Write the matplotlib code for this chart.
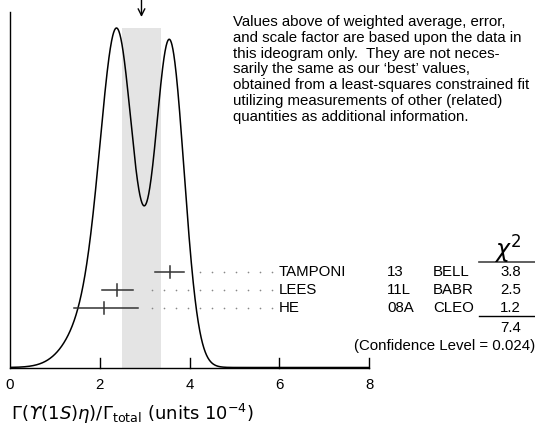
import numpy as np
import matplotlib
matplotlib.use("Agg")
import matplotlib.pyplot as plt

# measurements (units 1e-4)
names = ["TAMPONI", "LEES", "HE"]
years = ["13", "11L", "08A"]
exps = ["BELL", "BABR", "CLEO"]
vals = [3.56, 2.39, 2.10]
err_lo = [0.32, 0.34, 0.68]
err_hi = [0.32, 0.34, 0.76]
# gaussian widths used for the ideogram curve
ideo_lo = [0.32, 0.35, 0.58]
ideo_hi = [0.32, 0.35, 0.70]
chi2 = ["3.8", "2.5", "1.2"]
chi2_total = "7.4"
cl_text = "(Confidence Level = 0.024)"
avg, avg_err = 2.93, 0.43

W, H = 535, 429
plt.rcParams['font.family'] = ['Liberation Sans', 'DejaVu Sans']
plt.rcParams['mathtext.fontset'] = 'dejavusans'

fig = plt.figure(figsize=(W / 100, H / 100), dpi=100)

def fx(p):
    return p / W

def fy(p):
    return 1 - p / H

# axes box in pixels: x 10..369, y 12..367.5
ax = fig.add_axes([fx(10), fy(367.5), fx(359), (367.5 - 12) / H])
ax.set_xlim(0, 8)
ax.set_ylim(0, 1)
ax.axis('off')

# ideogram curve: gaussians with area ~ 1/sigma
x = np.linspace(0, 8, 1601)
curve = np.zeros_like(x)
for v, lo, hi in zip(vals, ideo_lo, ideo_hi):
    s = np.where(x < v, lo, hi)
    sm = 0.5 * (lo + hi)
    curve += np.exp(-0.5 * ((x - v) / s) ** 2) / sm ** 2
peak_level = (367.5 - 28) / (367.5 - 12)
curve = curve / curve.max() * peak_level

ax.axvspan(avg - avg_err, avg + avg_err, ymin=0, ymax=peak_level,
           color='#e4e4e4', lw=0, zorder=0)
ax.plot(x, curve, color='black', lw=1.1, zorder=3)

# axis lines and ticks
ax.plot([0, 0], [0, 1], color='black', lw=1.0, clip_on=False)
ax.plot([0, 8], [0, 0], color='black', lw=1.0, clip_on=False)
tick_h = 10 / 355.5
for t in [2, 4, 6, 8]:
    ax.plot([t, t], [0, tick_h], color='black', lw=1.0, clip_on=False)
for t in [0, 2, 4, 6, 8]:
    fig.text(fx(10 + t * 359 / 8), fy(385), str(t), ha='center', va='center',
             fontsize=10.8)

# arrow at the average
ax.annotate('', xy=(avg, (367.5 - 17) / 355.5), xytext=(avg, 1.04),
            arrowprops=dict(arrowstyle='->', lw=1.0, color='black',
                            mutation_scale=12, shrinkA=0, shrinkB=0),
            annotation_clip=False)

# measurements
row_px = [272.3, 290.0, 307.7]
dot_end, dot_step = 5.83, 0.267
for i, (n, v, lo, hi) in enumerate(zip(names, vals, err_lo, err_hi)):
    yy = (367.5 - row_px[i]) / 355.5
    ax.plot([v - lo, v + hi], [yy, yy], color='#333333', lw=1.1, zorder=4)
    ax.plot([v, v], [yy - 6 / 355.5, yy + 6 / 355.5], color='#333333', lw=1.1, zorder=4)
    dots = dot_end - dot_step * np.arange(0, 20)
    dots = dots[dots > v + hi + 0.25]
    ax.plot(dots, np.full_like(dots, yy), ls='none', marker='o', ms=1.2,
            color='#888888', mec='none', zorder=4)
    fig.text(fx(279), fy(row_px[i]), n, ha='left', va='center', fontsize=10.8)
    fig.text(fx(387), fy(row_px[i]), years[i], ha='left', va='center', fontsize=10.8)
    fig.text(fx(433), fy(row_px[i]), exps[i], ha='left', va='center', fontsize=10.8)
    fig.text(fx(510.5), fy(row_px[i]), chi2[i], ha='center', va='center', fontsize=10.8)

# chi2 header and rules
fig.text(fx(508), fy(250), r'$\chi^2$', ha='center', va='center', fontsize=17,
         family='DejaVu Serif')
fig.add_artist(plt.Line2D([fx(479), fx(535)], [fy(261.7), fy(261.7)], color='#444444', lw=1.2))
fig.add_artist(plt.Line2D([fx(479), fx(535)], [fy(316), fy(316)], color='black', lw=1.0))
fig.text(fx(510.5), fy(328), chi2_total, ha='center', va='center', fontsize=10.8)
fig.text(fx(535), fy(346), cl_text, ha='right', va='center', fontsize=10.8)

# note text
note = ("Values above of weighted average, error,\n"
        "and scale factor are based upon the data in\n"
        "this ideogram only.  They are not neces-\n"
        "sarily the same as our \u2018best\u2019 values,\n"
        "obtained from a least-squares constrained fit\n"
        "utilizing measurements of other (related)\n"
        "quantities as additional information.")
fig.text(fx(233), fy(15), note, ha='left', va='top', fontsize=10.8, linespacing=1.16)

# x label
xlabel = (r'$\Gamma\left(\mathit{' + '\u03d2' + r'}(1\mathit{S})\mathit{\eta}\right)'
          r'/\Gamma_{\rm total}$ (units $10^{-4}$)')
fig.text(fx(11), fy(414), xlabel, ha='left', va='center', fontsize=13,
         family='DejaVu Sans')

fig.savefig('out.png', dpi=100, facecolor='white')
